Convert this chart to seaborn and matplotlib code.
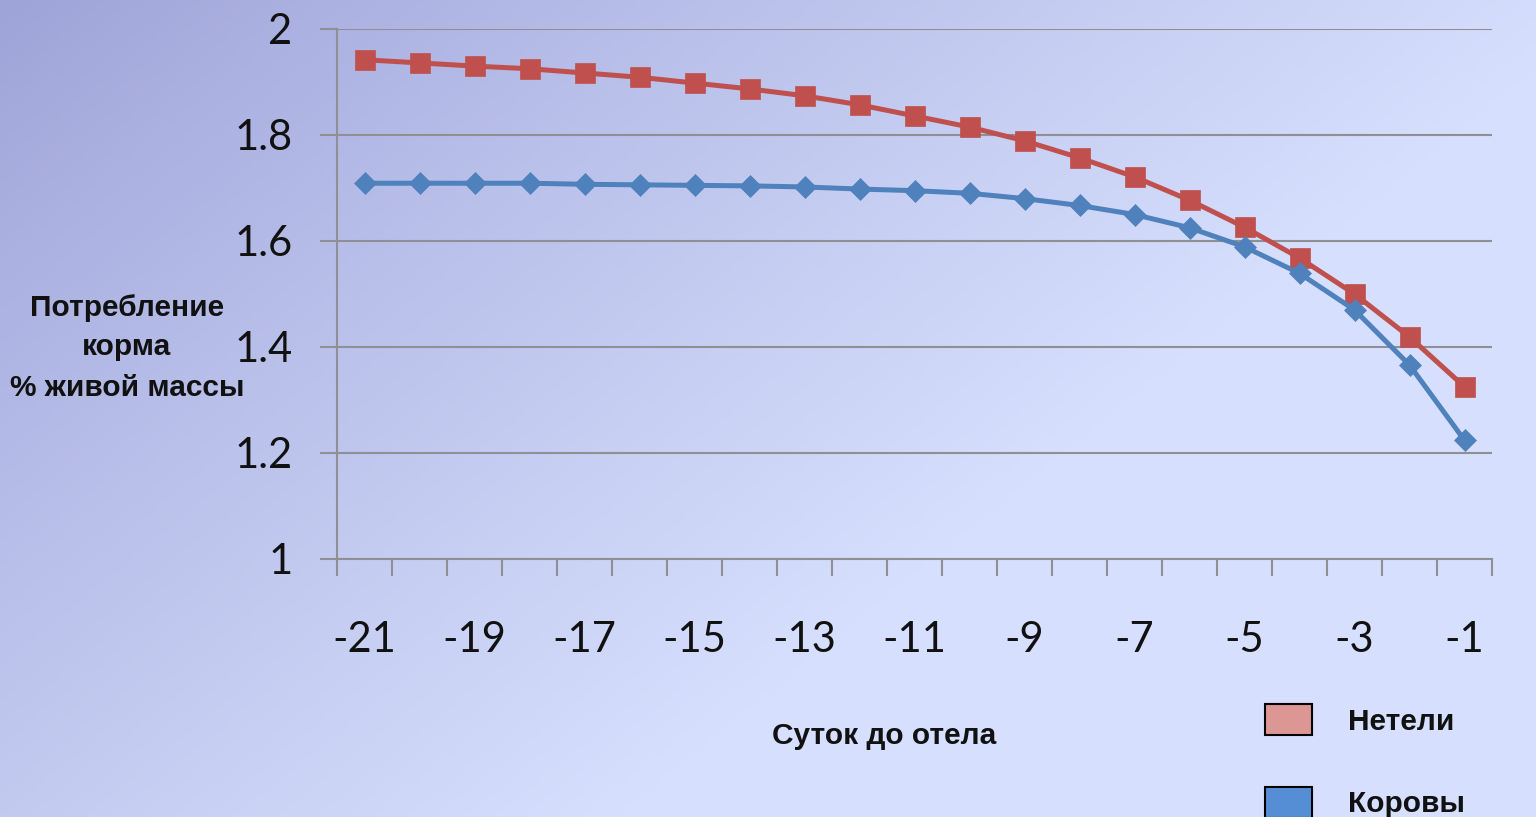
import numpy as np
import pandas as pd
import matplotlib
matplotlib.use("Agg")
import matplotlib.pyplot as plt
from matplotlib.patches import Patch
from matplotlib.colors import to_rgb
import seaborn as sns

# Days before calving and feed intake (% of body weight)
days = list(range(-21, 0))
heifers = [1.942, 1.936, 1.930, 1.925, 1.917, 1.909, 1.898, 1.887, 1.874, 1.857,
           1.836, 1.815, 1.789, 1.757, 1.721, 1.677, 1.626, 1.568, 1.500, 1.419, 1.325]
cows = [1.709, 1.709, 1.709, 1.709, 1.707, 1.706, 1.705, 1.704, 1.702, 1.698,
        1.695, 1.690, 1.680, 1.667, 1.650, 1.625, 1.589, 1.539, 1.470, 1.366, 1.224]
series_names = ["Нетели", "Коровы"]
y_ticks = [1, 1.2, 1.4, 1.6, 1.8, 2]
x_labels = list(range(-21, 0, 2))
y_title_lines = ["Потребление", "корма", "% живой массы"]

df = pd.DataFrame({
    "day": days * 2,
    "value": heifers + cows,
    "group": [series_names[0]] * len(days) + [series_names[1]] * len(days),
})

sns.set_theme(style="white")
plt.rcParams["font.family"] = ["Liberation Sans", "DejaVu Sans"]

W, H, DPI = 1536, 817, 100
fig = plt.figure(figsize=(W / DPI, H / DPI), dpi=DPI)

# Diagonal background gradient: lavender top-left to pale blue
bg = fig.add_axes([0, 0, 1, 1], zorder=-10)
xx, yy = np.meshgrid(np.linspace(0, 1, 400), np.linspace(0, 1, 220))
t = np.clip(0.95 * xx + 0.62 * yy, 0, 1) ** 0.9
dark = np.array(to_rgb("#9ea3d8"))
light = np.array(to_rgb("#d6dffd"))
img = dark[None, None, :] * (1 - t[..., None]) + light[None, None, :] * t[..., None]
bg.imshow(img, aspect="auto", extent=[0, 1, 0, 1], origin="upper")
bg.set_axis_off()

ax = fig.add_axes([337 / W, 1 - 559 / H, (1492 - 337) / W, (559 - 29) / H])
ax.patch.set_alpha(0)

red = "#c0504d"
blue = "#4f81bd"
sns.lineplot(data=df[df.group == series_names[0]], x="day", y="value", ax=ax,
             color=red, lw=3.6, marker="s", markersize=14.5, markeredgecolor=red,
             markeredgewidth=0.5, zorder=3, legend=False)
sns.lineplot(data=df[df.group == series_names[1]], x="day", y="value", ax=ax,
             color=blue, lw=3.6, marker="D", markersize=11, markeredgecolor=blue,
             markeredgewidth=0.5, zorder=4, legend=False)

grid_c = "#8e9096"
ax.set_xlim(-21.5, -0.5)
ax.set_ylim(1, 2)
ax.set_yticks(y_ticks)
ax.set_yticklabels([f"{v:g}" for v in y_ticks])
ax.set_xticks(x_labels)
ax.set_xticklabels([str(v) for v in x_labels])
ax.set_xticks(np.arange(-21.5, 0, 1), minor=True)
ax.yaxis.grid(True, color=grid_c, lw=1.5)
ax.xaxis.grid(False)
for side in ["top", "right"]:
    ax.spines[side].set_visible(False)
for side in ["left", "bottom"]:
    ax.spines[side].set_color(grid_c)
    ax.spines[side].set_linewidth(1.5)

tick_font = ["Lato", "DejaVu Sans"]
ax.tick_params(axis="x", which="major", length=0, pad=45, labelsize=30)
ax.tick_params(axis="x", which="minor", length=12, width=1.5, color=grid_c,
               direction="out", bottom=True)
ax.tick_params(axis="y", which="major", length=12, width=1.5, color=grid_c,
               direction="out", left=True, pad=20, labelsize=30)
for lab in ax.get_xticklabels() + ax.get_yticklabels():
    lab.set_family(tick_font)
    lab.set_color("#111111")
ax.set_xlabel("")
ax.set_ylabel("")

txt_kw = dict(fontsize=21.5, fontweight="bold", color="#111111")
# Y-axis title, one line at a time
for line, ypx in zip(y_title_lines, [308, 347, 388]):
    fig.text(127 / W, 1 - ypx / H, line, ha="center", va="center", **txt_kw)
fig.text(884 / W, 1 - 736 / H, "Суток до отела", ha="center", va="center", **txt_kw)

handles = [Patch(facecolor="#dc9694", edgecolor="black", lw=1.5),
           Patch(facecolor="#558ed5", edgecolor="black", lw=1.5)]
leg = fig.legend(handles, series_names, loc="upper left",
                 bbox_to_anchor=(1265 / W, 1 - 704 / H), frameon=False,
                 prop={"size": 21.5, "weight": "bold"}, borderpad=0, borderaxespad=0,
                 handlelength=1.58, handleheight=1.22, handletextpad=1.21,
                 labelspacing=1.72)
for tx in leg.get_texts():
    tx.set_color("#111111")

fig.savefig("out.png", dpi=DPI)
